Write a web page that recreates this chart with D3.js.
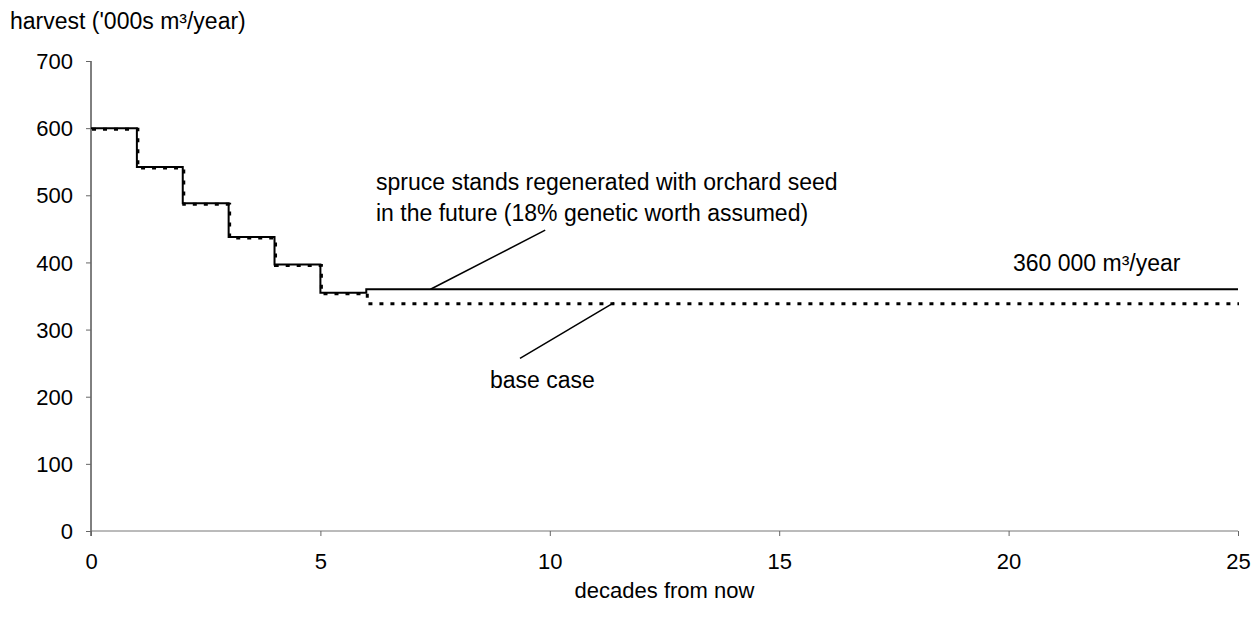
<!DOCTYPE html>
<html><head><meta charset="utf-8">
<script src="https://cdn.jsdelivr.net/npm/d3@7"></script>
<style>body{margin:0;background:#fff}svg{display:block}text{font-family:"Liberation Sans",Arial,sans-serif;fill:#000}</style>
</head><body>
<svg id="c" width="1258" height="620"></svg>
<script>
const decades = [0,1,2,3,4,5,6,25];
const orchardSeed = [600,542,488,438,397,355,360,360];
const baseCase   = [600,542,488,438,397,355,340,340];
const yTicks = [0,100,200,300,400,500,600,700];
const xTicks = [0,5,10,15,20,25];

const svg = d3.select("#c");
const x = d3.scaleLinear().domain([0,25]).range([91,1238]);
const y = d3.scaleLinear().domain([0,700]).range([531,61]);
const FS = "22px", FA = "23px";

// y axis
const ya = svg.append("g").attr("transform","translate(91,0)")
  .call(d3.axisLeft(y).tickValues(yTicks).tickSize(5).tickPadding(13));
ya.select(".domain").attr("stroke","#000").attr("d","M0,61V536");
ya.selectAll(".tick line").attr("stroke","#666");
ya.selectAll("text").style("font-size",FS).attr("dy","0.35em");

// x axis
const xa = svg.append("g").attr("transform","translate(0,531)")
  .call(d3.axisBottom(x).tickValues(xTicks).tickSize(5).tickPadding(17));
xa.select(".domain").attr("stroke","#777").attr("d","M91,0H1238");
xa.selectAll(".tick line").attr("stroke","#666");
xa.selectAll("text").style("font-size",FS);

const line = d3.line().x(d=>x(d[0])).y(d=>y(d[1])).curve(d3.curveStepAfter);
const solidPts = decades.map((d,i)=>[d,orchardSeed[i]]);
const basePts = decades.map((d,i)=>[d,baseCase[i]]);

svg.append("path").attr("d",line(solidPts)).attr("fill","none").attr("stroke","#000").attr("stroke-width",2);
svg.append("path").attr("d",line(basePts)).attr("fill","none").attr("stroke","#000").attr("stroke-width",3)
  .attr("stroke-dasharray","4,7").attr("transform","translate(1,1)");

// annotations
svg.append("line").attr("x1",x(7.4)).attr("y1",y(360)).attr("x2",x(9.9)).attr("y2",y(448)).attr("stroke","#000").attr("stroke-width",1.5);
svg.append("line").attr("x1",x(9.35)).attr("y1",y(257)).attr("x2",x(11.4)).attr("y2",y(340)).attr("stroke","#000").attr("stroke-width",1.5);

const t = (tx,ty,s,anchor,fs)=>svg.append("text").attr("x",tx).attr("y",ty).style("font-size",fs||FA).attr("text-anchor",anchor||"start").text(s);
t(376,190,"spruce stands regenerated with orchard seed");
t(376,221,"in the future (18% genetic worth assumed)");
t(1013,271,"360 000 m³/year");
t(490,388,"base case");
t(10,29,"harvest ('000s m³/year)");
t(664.5,598,"decades from now","middle",FS);
</script>
</body></html>
